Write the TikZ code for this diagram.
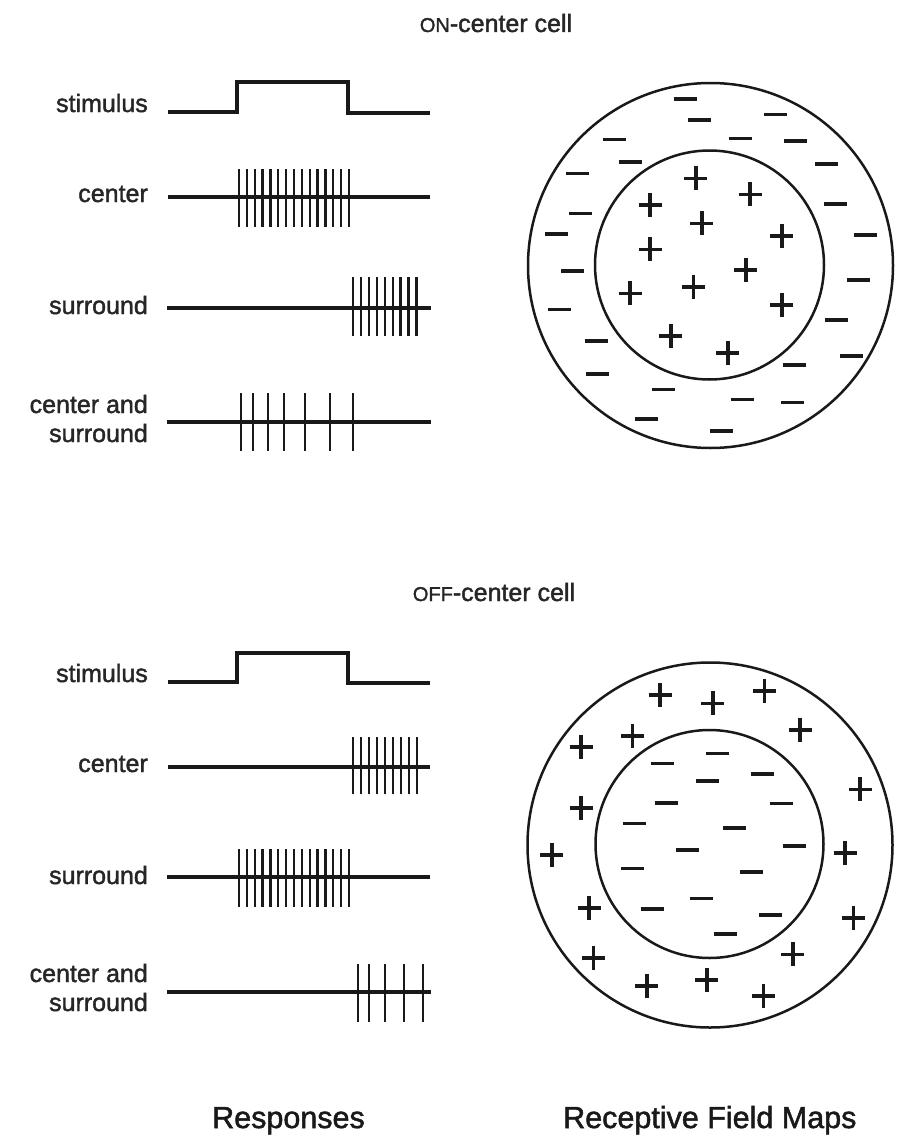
\documentclass[tikz,border=0pt]{standalone}
\usepackage{fontspec}
\setmainfont{Liberation Sans}[BoldFont=Liberation Sans,BoldFeatures={FakeBold=1.6}]
\begin{document}
\begin{tikzpicture}[x=1pt,y=-1pt,
  ink/.style={black!90},
  stim/.style={ink,line width=3.6pt,line join=miter},
  trace/.style={ink,line width=3.1pt},
  spike/.style={ink,line width=2.3pt},
  ring/.style={ink,line width=2.5pt},
  sign/.style={ink,line width=3.6pt},
  lbl/.style={font=\fontsize{25}{29}\selectfont\bfseries,inner sep=0pt,anchor=base east,align=right,text=black!85},
  ttl/.style={font=\fontsize{25}{29}\selectfont\bfseries,inner sep=0pt,anchor=base,text=black!85},
  foot/.style={font=\fontsize{30.5}{34}\selectfont\bfseries,inner sep=0pt,anchor=base west,text=black!90},
  plus/.pic={\draw[sign] (-11.5,0) -- (11.5,0) (0,-12) -- (0,12);},
  minus/.pic={\draw[sign] (-11.5,0) -- (11.5,0);}
]
\useasboundingbox (0,0) rectangle (913,1148);

% ---------------- ON-center cell ----------------
\node[ttl] (onTitle) at (496,32) {{\fontsize{20}{24}\selectfont ON}-center cell};

\node[lbl] (onStim) at (148,112) {stimulus};
\node[lbl] (onCen)  at (148,202) {center};
\node[lbl] (onSur)  at (148,314) {surround};
\node[lbl] (onBoth) at (148,442) {center and\\surround};

% stimulus step
\draw[stim] (168,112) -- (237,112) -- (237,82) -- (348,82) -- (348,113) -- (430,113);
% center response
\draw[trace] (168,197) -- (430,197);
\foreach \i in {0,...,14} \draw[spike] ({239+7.857*\i},169) -- ++(0,58);
% surround response
\draw[trace] (167,308) -- (431,308);
\foreach \i in {0,...,8} \draw[spike] ({353+7.94*\i},277) -- ++(0,59);
% center and surround response
\draw[trace] (167,422) -- (431,422);
\foreach \x in {240.7,253.3,268,283.7,305,330.3,353} \draw[spike] (\x,393) -- ++(0,58);

% receptive field map
\draw[ring] (710.5,265.5) circle[radius=182.5];
\draw[ring] (709.5,265) circle[radius=114.5];
\foreach \p in {(695.7,178.3),(750,194.3),(650,205),(701.7,223.3),(781.7,235.7),(650,249.3),
                (745.7,270),(693.3,286.7),(630,293.3),(781.7,305),(670.7,336),(727.7,352.7)}
  \pic at \p {plus};
\foreach \p in {(685.7,99),(699,120),(775.7,114.3),(614.3,139.3),(740,138.3),(795,140.7),
                (630,161.7),(826.7,164),(577.3,173.3),(580,213.3),(835.7,204),(556.7,234),
                (865,235),(572.7,271),(858.3,280),(559,309.3),(836,320),(596.7,340.7),
                (851.7,356),(597.7,374),(794.3,365),(663.3,389.3),(742.7,399.3),(792.3,402.3),
                (646.7,419),(721.7,431)}
  \pic at \p {minus};

% ---------------- OFF-center cell ----------------
\node[ttl] (offTitle) at (494,601) {{\fontsize{20}{24}\selectfont OFF}-center cell};

\node[lbl] (offStim) at (148,682) {stimulus};
\node[lbl] (offCen)  at (148,772) {center};
\node[lbl] (offSur)  at (148,884) {surround};
\node[lbl] (offBoth) at (148,1011) {center and\\surround};

% stimulus step
\draw[stim] (168,682) -- (237,682) -- (237,653) -- (348,653) -- (348,683) -- (430,683);
% center response
\draw[trace] (168,767) -- (430,767);
\foreach \i in {0,...,8} \draw[spike] ({353.3+7.92*\i},737) -- ++(0,57);
% surround response
\draw[trace] (167,877) -- (430,877);
\foreach \i in {0,...,14} \draw[spike] ({239+7.857*\i},849) -- ++(0,58);
% center and surround response
\draw[trace] (167,992) -- (431,992);
\foreach \x in {358.3,369,385,404,422.7} \draw[spike] (\x,964) -- ++(0,58);

% receptive field map
\draw[ring] (710,845) circle[radius=182.5];
\draw[ring] (709.5,844) circle[radius=114];
\foreach \p in {(660,695),(712.7,703.3),(764.3,690.7),(632.3,735.7),(581,746.7),(800,730),
                (860,789.3),(581,807.7),(551.7,855),(845,852.7),(589,907.7),(853.3,917.7),
                (593.3,957.7),(792.7,954.3),(646.7,986),(706.7,980),(763.3,995.7)}
  \pic at \p {plus};
\foreach \p in {(662.3,763.3),(717.3,753.3),(762.3,774),(707.3,781),(666,802.7),(781,803.3),
                (634,823.3),(734,827.7),(687.3,850),(794,845.7),(632.3,868.3),(751,871.7),
                (701,898.3),(652.3,909),(770.7,915),(725,934)}
  \pic at \p {minus};

% ---------------- column headings ----------------
\node[foot] (respHead) at (212,1128) {Responses};
\node[foot] (mapHead)  at (563,1128) {Receptive Field Maps};
\end{tikzpicture}
\end{document}
